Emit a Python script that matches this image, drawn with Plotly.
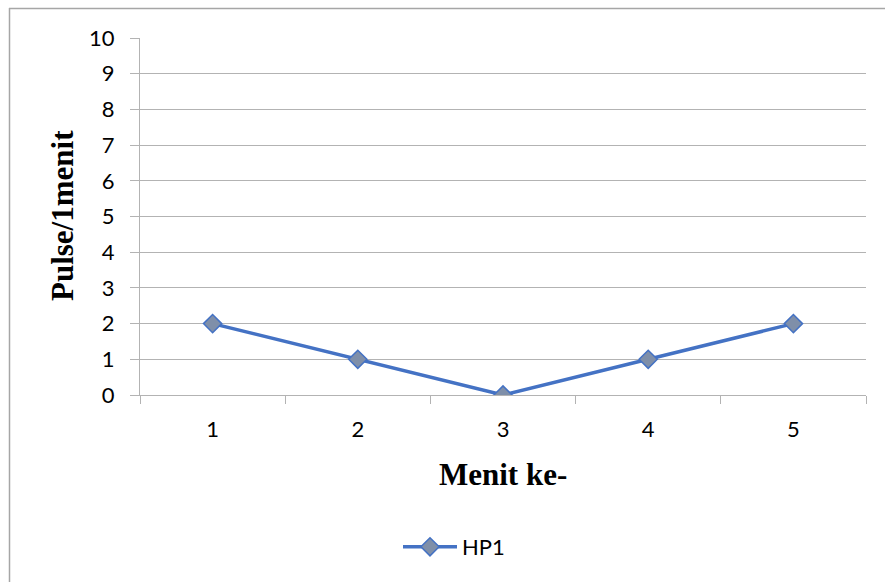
import plotly.graph_objects as go

categories = ["1", "2", "3", "4", "5"]
hp1 = [2, 1, 0, 1, 2]
y_ticks = list(range(0, 11))

W, H = 885, 582
L, R, T, B = 140, 866, 38, 395

def px(x):
    return (x - L) / (R - L)

def py(y):
    return (B - y) / (B - T)

fig = go.Figure()
fig.add_trace(go.Scatter(
    x=categories, y=hp1, name="HP1", mode="lines+markers",
    line=dict(color="#4472C4", width=3.5),
    marker=dict(symbol="diamond", size=14, color="#7F8FA9",
                line=dict(color="#4472C4", width=1.5)),
))

grid = "#B3B3B3"
tick_font = dict(family="Lato, Open Sans, sans-serif", size=22, color="black")
fig.update_layout(
    width=W, height=H,
    margin=dict(l=L, r=W - R, t=T, b=H - B),
    paper_bgcolor="white", plot_bgcolor="white",
    showlegend=True,
    legend=dict(x=px(398), y=py(547), xanchor="left", yanchor="middle", itemwidth=54,
                orientation="h", font=dict(family="Lato, Open Sans, sans-serif", size=22, color="black")),
    xaxis=dict(type="category", range=[-0.5, 4.5], tickson="boundaries", ticks="outside", ticklen=8,
               tickcolor=grid, showline=True, linecolor=grid, linewidth=1,
               showgrid=False, ticklabelstandoff=15, tickfont=tick_font),
    yaxis=dict(range=[0, 10], tickvals=y_ticks, ticks="outside", ticklen=9,
               tickcolor=grid, showline=True, linecolor=grid, linewidth=1,
               showgrid=True, gridcolor=grid, gridwidth=1, zeroline=False,
               ticklabelstandoff=11, tickfont=tick_font),
    annotations=[
        dict(text="<b>Menit ke-</b>", xref="paper", yref="paper", x=px(503), y=py(474),
             xanchor="center", yanchor="middle", showarrow=False,
             font=dict(family="Liberation Serif, Times New Roman, serif", size=31, color="black")),
        dict(text="<b>Pulse/1menit</b>", xref="paper", yref="paper", x=px(62), y=py(216),
             xanchor="center", yanchor="middle", showarrow=False, textangle=-90,
             font=dict(family="Liberation Serif, Times New Roman, serif", size=31, color="black")),
    ],
    shapes=[
        dict(type="line", xref="paper", yref="paper", x0=px(9), x1=px(900), y0=py(8.5), y1=py(8.5),
             line=dict(color="#A6A6A6", width=1.5)),
        dict(type="line", xref="paper", yref="paper", x0=px(9.5), x1=px(9.5), y0=py(8), y1=py(600),
             line=dict(color="#A6A6A6", width=1.5)),
    ],
)

fig.write_html("out.html")
